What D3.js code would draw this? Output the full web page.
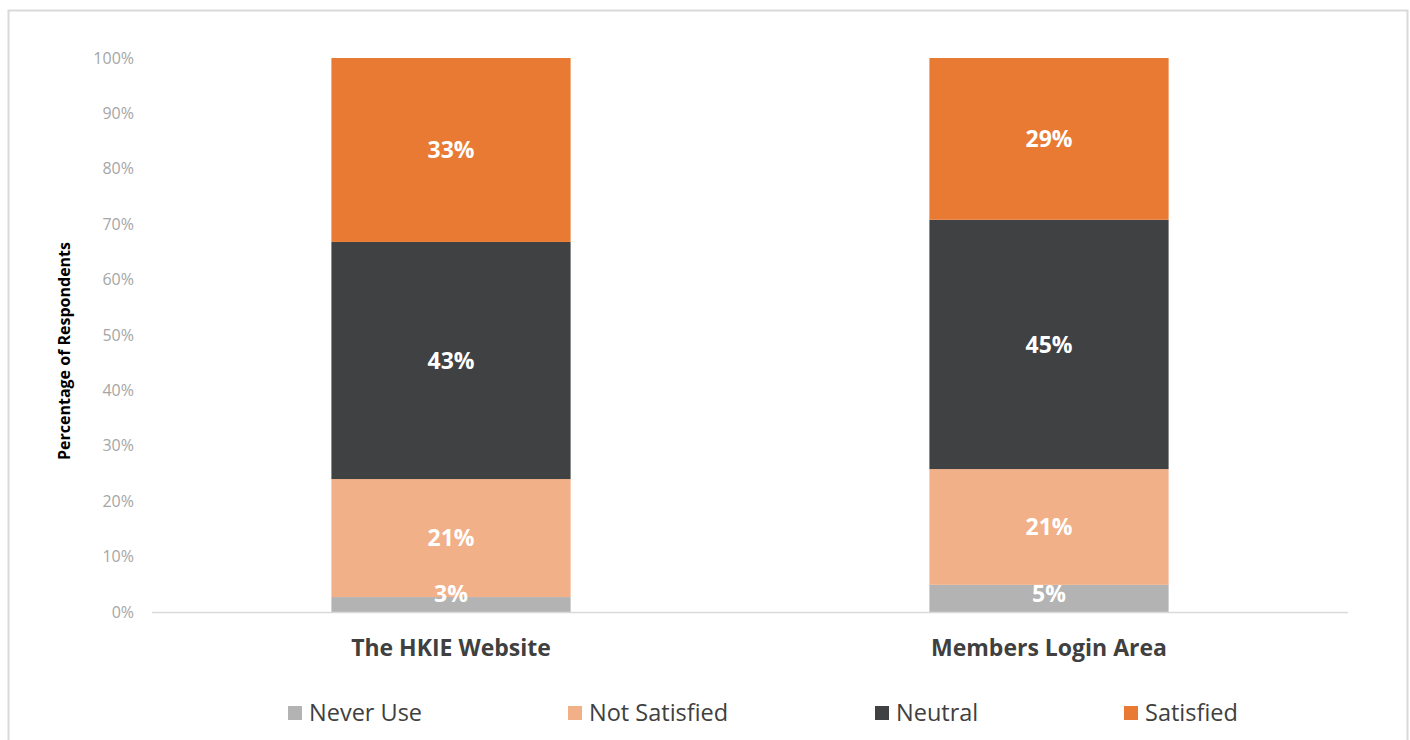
<!DOCTYPE html>
<html>
<head>
<meta charset="utf-8">
<script src="https://cdn.jsdelivr.net/npm/d3@7"></script>
<style>
  body { margin: 0; background: #fff; }
  svg text { font-family: "Open Sans", "Noto Sans", sans-serif; }
</style>
</head>
<body>
<div id="chart"></div>
<script>
// categories and series (percent of respondents)
const categories = ["The HKIE Website", "Members Login Area"];
const seriesNames = ["Never Use", "Not Satisfied", "Neutral", "Satisfied"];
const neverUse = [2.7, 4.9];
const notSatisfied = [21.3, 20.9];
const neutral = [42.8, 45.0];
const satisfied = [33.2, 29.2];
const yTicks = [0, 10, 20, 30, 40, 50, 60, 70, 80, 90, 100];
const colors = ["#b3b3b3", "#f1b088", "#404143", "#e97a33"];

const W = 1410, H = 740;
const margin = { top: 58, right: 62, bottom: 128, left: 152 };

const svg = d3.select("#chart").append("svg")
  .attr("width", W).attr("height", H);

// outer frame (bottom edge runs off the picture)
svg.append("path")
  .attr("d", `M8.5,${H} V10.5 H1407.5 V${H}`)
  .attr("fill", "none")
  .attr("stroke", "#d9d9d9")
  .attr("stroke-width", 2);

const table = categories.map((c, i) => ({
  cat: c,
  "Never Use": neverUse[i],
  "Not Satisfied": notSatisfied[i],
  "Neutral": neutral[i],
  "Satisfied": satisfied[i]
}));
const stacked = d3.stack().keys(seriesNames)(table);

const x = d3.scaleBand()
  .domain(categories)
  .range([margin.left, W - margin.right])
  .paddingInner(0.6)
  .paddingOuter(0.3);

const y = d3.scaleLinear()
  .domain([0, 100])
  .range([H - margin.bottom, margin.top]);

// y axis tick labels
const yAxis = svg.append("g")
  .attr("transform", `translate(${margin.left},0)`)
  .call(d3.axisLeft(y).tickValues(yTicks).tickFormat(d => d + "%").tickSize(0).tickPadding(18));
yAxis.select(".domain").remove();
yAxis.selectAll("text")
  .attr("fill", "#a6a6a6")
  .style("font-size", "16px");

// bars
svg.append("g").selectAll("g")
  .data(stacked)
  .join("g")
  .attr("fill", (d, i) => colors[i])
  .selectAll("rect")
  .data(d => d)
  .join("rect")
  .attr("x", d => x(d.data.cat))
  .attr("width", x.bandwidth())
  .attr("y", d => y(d[1]))
  .attr("height", d => y(d[0]) - y(d[1]));

// baseline
svg.append("line")
  .attr("x1", margin.left).attr("x2", W - margin.right)
  .attr("y1", y(0) + 0.5).attr("y2", y(0) + 0.5)
  .attr("stroke", "#d9d9d9")
  .attr("stroke-width", 1.5);

// data labels, drawn above all bars (kept inside the plot area like Excel does)
svg.append("g").selectAll("g")
  .data(stacked)
  .join("g")
  .selectAll("text")
  .data(d => d)
  .join("text")
  .attr("x", d => x(d.data.cat) + x.bandwidth() / 2)
  .attr("y", d => Math.min((y(d[0]) + y(d[1])) / 2, y(0) - 18))
  .attr("dy", "0.36em")
  .attr("text-anchor", "middle")
  .attr("fill", "#fff")
  .style("font-size", "23px")
  .style("font-weight", "bold")
  .text(d => Math.round(d[1] - d[0]) + "%");

// category labels
svg.append("g").selectAll("text")
  .data(categories)
  .join("text")
  .attr("x", d => x(d) + x.bandwidth() / 2)
  .attr("y", 656)
  .attr("text-anchor", "middle")
  .attr("fill", "#404040")
  .style("font-size", "23px")
  .style("font-weight", "bold")
  .text(d => d);

// y axis title
svg.append("text")
  .attr("transform", `translate(70,351) rotate(-90)`)
  .attr("text-anchor", "middle")
  .attr("fill", "#000")
  .style("font-size", "16px")
  .style("font-weight", "bold")
  .text("Percentage of Respondents");

// legend
const legendX = [288, 568, 875, 1124];
const legend = svg.append("g").selectAll("g")
  .data(seriesNames)
  .join("g")
  .attr("transform", (d, i) => `translate(${legendX[i]},713)`);
legend.append("rect")
  .attr("x", 0).attr("y", -7)
  .attr("width", 14).attr("height", 14)
  .attr("fill", (d, i) => colors[i]);
legend.append("text")
  .attr("x", 21)
  .attr("dy", "0.36em")
  .attr("fill", "#404040")
  .style("font-size", "23.5px")
  .text(d => d);
</script>
</body>
</html>
